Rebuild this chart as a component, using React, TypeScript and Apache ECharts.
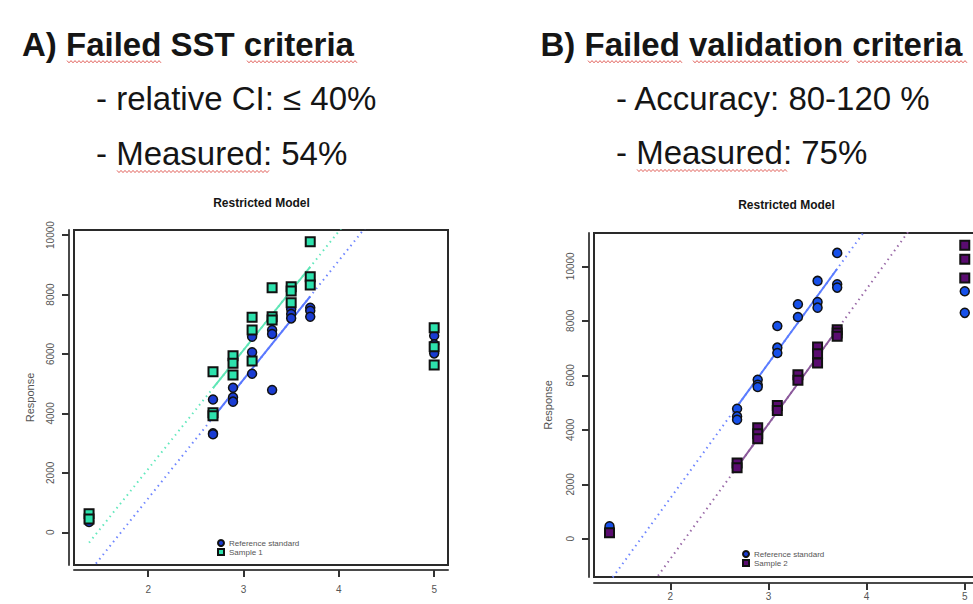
import React, { useEffect, useRef } from "react";
import * as echarts from "echarts";

// ---------- data ----------
const DOSES = [1.38, 2.68, 2.89, 3.09, 3.3, 3.5, 3.7, 5.0];
const X_TICKS = [2, 3, 4, 5];
const Y_TICKS = [0, 2000, 4000, 6000, 8000, 10000];

// Panel A: responses per dose level
const REF_A = [
  [390, 350],
  [4470, 3330, 3300],
  [4865, 4540, 4395],
  [6580, 6054, 5336],
  [6805, 6670, 4787],
  [7500, 7343, 7197],
  [7556, 7455, 7253],
  [6614, 6323, 6020],
];
const SAMPLE_A = [
  [620, 450],
  [5404, 4025, 3924],
  [5942, 5684, 5291],
  [7231, 6805, 5762],
  [8229, 7253, 7141],
  [8262, 8117, 7724],
  [9776, 8599, 8318],
  [6883, 6244, 5628],
];
// Fitted lines panel A (endpoints)
const FIT_REF_A = [[2.68, 3860], [3.7, 7940]];
const FIT_SAMPLE_A = [[2.68, 4850], [3.7, 8930]];
const EXT_REF_A = [[1.38, -1340], [5.0, 13140]];
const EXT_SAMPLE_A = [[1.38, -350], [5.0, 14130]];

// Panel B
const REF_B = [
  [458],
  [4774, 4492, 4370],
  [5838, 5655, 5569],
  [7809, 7014, 6818],
  [8605, 8140],
  [9462, 8690, 8482],
  [10490, 9339, 9217],
  [9082, 8290],
];
const SAMPLE_B = [
  [227],
  [2778, 2607],
  [4076, 3856, 3672],
  [4896, 4712],
  [6022, 5814],
  [7038, 6793, 6450],
  [7674, 7552, 7430],
  [10771, 10257, 9570],
];
const FIT_REF_B = [[2.68, 4859], [3.7, 9908]];
const FIT_SAMPLE_B = [[2.68, 2632], [3.7, 7681]];
const EXT_REF_B = [[1.38, -1576], [5.0, 16343]];
const EXT_SAMPLE_B = [[1.38, -3803], [5.0, 14116]];

const FONT = '"Liberation Sans", Arial, sans-serif';

function toPoints(groups: number[][]) {
  const out: number[][] = [];
  groups.forEach((g, i) => g.forEach((v) => out.push([DOSES[i], v])));
  return out;
}

function wave(x0: number, x1: number, y: number) {
  const pts: number[][] = [];
  let up = true;
  for (let x = x0; x <= x1; x += 2) {
    pts.push([x, y + (up ? -1.1 : 1.1)]);
    up = !up;
  }
  return pts;
}

function squiggle(x0: number, x1: number, y: number) {
  return {
    type: "polyline",
    silent: true,
    shape: { points: wave(x0, x1, y) },
    style: { stroke: "#e2625c", lineWidth: 1, fill: null },
  };
}

function textEl(text: string, x: number, y: number, size: number, bold: boolean, align = "left") {
  return {
    type: "text",
    x,
    y,
    silent: true,
    style: {
      text,
      fontSize: size,
      fontWeight: bold ? "bold" : "normal",
      fontFamily: FONT,
      fill: "#151515",
      align,
      verticalAlign: "middle",
    },
  };
}

function xAxisCfg(gridIndex: number, offset: number, margin: number) {
  return {
    type: "value",
    gridIndex,
    min: 1.222,
    max: 5.145,
    position: "bottom",
    offset,
    axisLine: { show: true, onZero: false, lineStyle: { color: "#4a4a4a", width: 2 } },
    axisTick: { show: true, customValues: X_TICKS, length: 7, lineStyle: { color: "#333", width: 2 } },
    axisLabel: {
      customValues: X_TICKS,
      margin,
      fontSize: 10,
      color: "#555",
      fontFamily: FONT,
      formatter: (v: number) => String(v),
    },
    splitLine: { show: false },
  };
}

function yAxisCfg(gridIndex: number, min: number, max: number, offset: number, nameGap: number) {
  return {
    type: "value",
    gridIndex,
    min,
    max,
    position: "left",
    offset,
    name: "Response",
    nameLocation: "middle",
    nameGap,
    nameTextStyle: { fontSize: 11, color: "#555", fontFamily: FONT },
    axisLine: { show: true, onZero: false, lineStyle: { color: "#4a4a4a", width: 2 } },
    axisTick: { show: true, customValues: Y_TICKS, length: 7, lineStyle: { color: "#333", width: 2 } },
    axisLabel: {
      customValues: Y_TICKS,
      rotate: 90,
      margin: 14,
      fontSize: 10,
      color: "#555",
      fontFamily: FONT,
      formatter: (v: number) => String(v),
    },
    splitLine: { show: false },
  };
}

function lineSeries(name: string, data: number[][], axis: number, color: string, dotted: boolean) {
  return {
    type: "line",
    name,
    xAxisIndex: axis,
    yAxisIndex: axis,
    data,
    symbol: "none",
    silent: true,
    clip: true,
    z: 1,
    lineStyle: dotted
      ? { color, width: 2, type: [1.5, 4] }
      : { color, width: 2 },
  };
}

function scatterSeries(name: string, data: number[][], axis: number, symbol: string, color: string, size: number, bw: number, z: number) {
  return {
    type: "scatter",
    name,
    xAxisIndex: axis,
    yAxisIndex: axis,
    data,
    symbol,
    symbolSize: size,
    z,
    itemStyle: { color, borderColor: "#111", borderWidth: bw, opacity: 1 },
  };
}

export default function App() {
  const ref = useRef<HTMLDivElement>(null);

  useEffect(() => {
    if (!ref.current) return;
    const chart = echarts.init(ref.current, undefined, { renderer: "svg" });

    const legendText = { fontSize: 8, color: "#555", fontFamily: FONT };

    chart.setOption({
      animation: false,
      backgroundColor: "#ffffff",
      grid: [
        { left: 74, top: 230, width: 374, height: 335, show: true, borderColor: "#2a2a2a", borderWidth: 2, containLabel: false, outerBoundsMode: "none" },
        { left: 594, top: 233, width: 385, height: 344, show: true, borderColor: "#2a2a2a", borderWidth: 2, containLabel: false, outerBoundsMode: "none" },
      ],
      xAxis: [xAxisCfg(0, 5, 14), xAxisCfg(1, 6, 8)],
      yAxis: [yAxisCfg(0, -1100, 10170, 5, 34), yAxisCfg(1, -1400, 11220, 5, 36)],
      legend: [
        {
          data: ["Reference standard", "Sample 1"],
          orient: "vertical",
          left: 217,
          top: 539,
          padding: 0,
          itemGap: 1,
          itemWidth: 6,
          itemHeight: 6,
          selectedMode: false,
          textStyle: legendText,
        },
        {
          data: ["Reference standard", "Sample 2"],
          orient: "vertical",
          left: 742,
          top: 550,
          padding: 0,
          itemGap: 1,
          itemWidth: 6,
          itemHeight: 6,
          selectedMode: false,
          textStyle: legendText,
        },
      ],
      graphic: [
        textEl("A) Failed SST criteria", 22, 44.5, 33, true),
        textEl("- relative CI: \u2264 40%", 96, 98.5, 33, false),
        textEl("- Measured: 54%", 96, 153.5, 33, false),
        textEl("B) Failed validation criteria", 540.5, 44.5, 33, true),
        textEl("- Accuracy: 80-120 %", 616, 98.5, 33, false),
        textEl("- Measured: 75%", 616, 152.5, 33, false),
        textEl("Restricted Model", 261.5, 203.3, 12, true, "center"),
        textEl("Restricted Model", 786.5, 205, 12, true, "center"),
        squiggle(67, 162, 61.7),
        squiggle(247, 358, 61.7),
        squiggle(117, 269, 171.5),
        squiggle(588, 682, 61.7),
        squiggle(693, 850, 61.7),
        squiggle(857, 967, 61.7),
        squiggle(637, 788, 170.5),
      ],
      series: [
        lineSeries("ext ref A", EXT_REF_A, 0, "#6f86ff", true),
        lineSeries("ext sample A", EXT_SAMPLE_A, 0, "#63e8bd", true),
        lineSeries("fit ref A", FIT_REF_A, 0, "#5a78ff", false),
        lineSeries("fit sample A", FIT_SAMPLE_A, 0, "#5fe6b6", false),
        scatterSeries("Reference standard", toPoints(REF_A), 0, "circle", "#1a3cd2", 9, 1.5, 3),
        scatterSeries("Sample 1", toPoints(SAMPLE_A), 0, "rect", "#2de2ad", 9, 2, 4),

        lineSeries("ext ref B", EXT_REF_B, 1, "#6f86ff", true),
        lineSeries("ext sample B", EXT_SAMPLE_B, 1, "#9a6aa8", true),
        lineSeries("fit ref B", FIT_REF_B, 1, "#5a7cff", false),
        lineSeries("fit sample B", FIT_SAMPLE_B, 1, "#8c5a9c", false),
        scatterSeries("Reference standard", toPoints(REF_B), 1, "circle", "#1650ea", 9, 1.5, 3),
        scatterSeries("Sample 2", toPoints(SAMPLE_B), 1, "rect", "#5a0c70", 9, 2, 4),
      ],
    });

    return () => chart.dispose();
  }, []);

  return (
    <div
      ref={ref}
      style={{ position: "fixed", left: 0, top: 0, width: 973, height: 604, background: "#fff" }}
    />
  );
}
